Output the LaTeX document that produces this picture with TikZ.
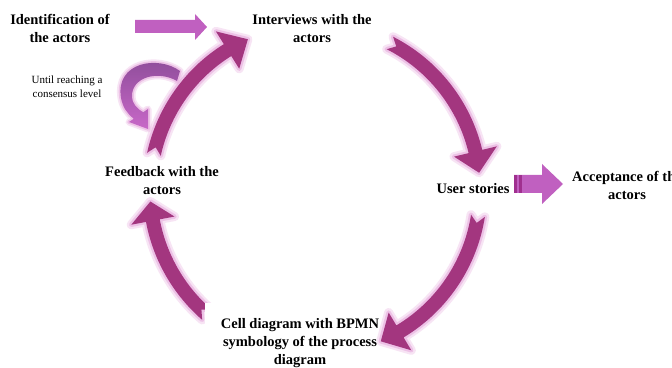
\documentclass[tikz,border=0pt]{standalone}
\usepackage{fontspec}
\setmainfont{Liberation Serif}
\usetikzlibrary{calc}
\definecolor{arcc}{HTML}{A3367F}
\definecolor{lightarr}{HTML}{C060C0}
\definecolor{darkstripe}{HTML}{A0308F}
\definecolor{glowc}{HTML}{E6A6DC}
\definecolor{smalltop}{HTML}{8C4C98}
\definecolor{smallbot}{HTML}{C868C8}
\tikzset{
  lbl/.style={font=\bfseries\fontsize{14.5}{18}\selectfont, align=center, inner sep=0pt},
  small/.style={font=\fontsize{11}{14}\selectfont, align=center, inner sep=0pt},
  glowA/.style={draw=glowc, line width=9pt, opacity=0.3, line join=round},
  glowB/.style={draw=glowc, line width=4.5pt, opacity=0.55, line join=round},
  arcfill/.style={fill=arcc},
}
\newcommand\arcarrow[5]{%
  \path[#1] ($(C)+(#2:172pt)$) arc[start angle=#2, end angle=#4, radius=172pt]
    -- ($(C)+(#4:187pt)$) -- ($(C)+(#5:165pt)$) -- ($(C)+(#4:143pt)$)
    -- ($(C)+(#4:158pt)$) arc[start angle=#4, end angle=#2, radius=158pt]
    -- ($(C)+(#3:165pt)$) -- cycle;}
\newcommand\fullarc[4]{%
  \arcarrow{glowA}{#1}{#2}{#3}{#4}
  \arcarrow{glowB}{#1}{#2}{#3}{#4}
  \arcarrow{arcfill}{#1}{#2}{#3}{#4}}
\begin{document}
\begin{tikzpicture}[x=1pt,y=1pt]
\clip (0,0) rectangle (672,367);
\fill[white] (0,0) rectangle (672,367);
\coordinate (C) at (315,177);

% big circular arrows
\fullarc{167.5}{165}{122}{114}
\fullarc{63}{60.5}{13.5}{6}
\fullarc{-131}{-133.5}{-169.3}{-176}

% cell node with white background
\node[lbl, fill=white, inner xsep=16pt, inner ysep=15pt] (cell) at (300,24)
  {Cell diagram with BPMN\\symbology of the process\\diagram};

\fullarc{-9}{-11.5}{-59}{-66.5}

% straight arrow from identification
\fill[lightarr] (135,347) -- (195,347) -- (195,353) -- (207,340) -- (195,327)
  -- (195,334) -- (135,334) -- cycle;

% acceptance arrow
\fill[lightarr] (514,192) -- (542,192) -- (542,203) -- (563,183) -- (542,163)
  -- (542,174) -- (514,174) -- cycle;
\fill[darkstripe] (514,174) rectangle (517,192);
\fill[darkstripe] (519,174) rectangle (521.5,192);

% small consensus arrow
\def\smallpath{(180,296) .. controls (158,312) and (115,305) .. (121,269)
  .. controls (123,259) and (127,254) .. (133.75,248.25)
  -- (129,245) -- (148,238) -- (148,258) -- (143.25,254.75)
  .. controls (137,258) and (132,264) .. (132,270)
  .. controls (131,290) and (158,297) .. (177,286) -- cycle}
\path[draw=glowc, line width=7pt, opacity=0.3, line join=round] \smallpath;
\path[draw=glowc, line width=3.5pt, opacity=0.55, line join=round] \smallpath;
\shade[top color=smalltop, bottom color=smallbot] \smallpath;

% labels
\node[lbl] (ident) at (60,338.5) {Identification of\\the actors};
\node[lbl] (interv) at (312,338) {Interviews with the\\actors};
\node[lbl] (user) at (473,178) {User stories};
\node[lbl] (accept) at (627,182) {Acceptance of the\\actors};
\node[lbl] (feed) at (162,186) {Feedback with the\\actors};
\node[small] (until) at (67,280) {Until reaching a\\consensus level};
\end{tikzpicture}
\end{document}
